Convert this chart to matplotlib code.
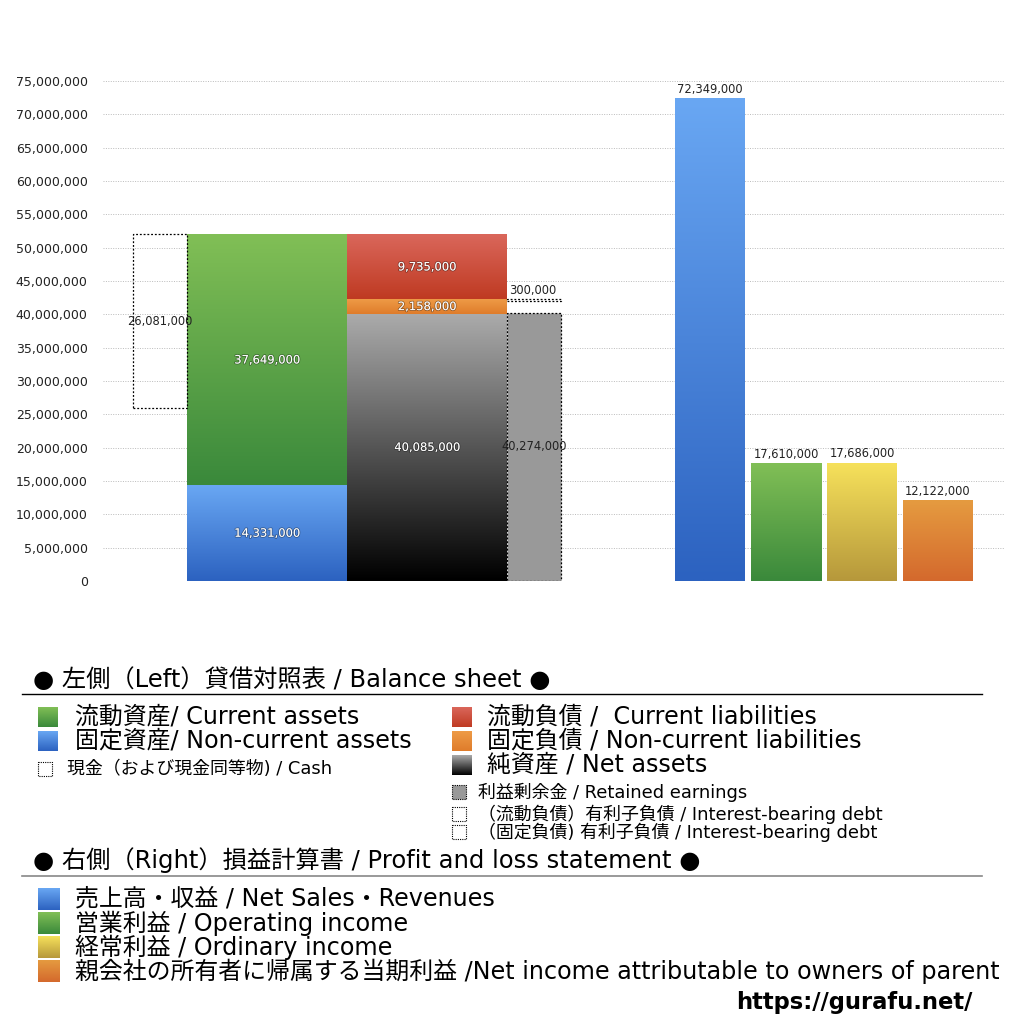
import numpy as np
import matplotlib.pyplot as plt
from matplotlib.patches import Rectangle
from matplotlib import patheffects
from matplotlib.colors import to_rgb

# 欧文は DejaVu Sans、和文は Noto Sans CJK JP にフォールバック
plt.rcParams["font.family"] = ["DejaVu Sans", "Noto Sans CJK JP"]

# ==================================================
# データ（貸借対照表 / 損益計算書）
# ==================================================
cash = 26_081_000
non_current_assets = 14_331_000
current_assets = 37_649_000
net_assets = 40_085_000
non_current_liabilities = 2_158_000
current_liabilities = 9_735_000
retained_earnings = 40_274_000
interest_bearing_debt = 300_000

pl_values = [72_349_000, 17_610_000, 17_686_000, 12_122_000]

y_ticks = list(range(0, 75_000_001, 5_000_000))

# 色（上, 下）
c_blue = ("#69a7f3", "#2c62c0")
c_green = ("#81bf56", "#3a893b")
c_red = ("#da675b", "#bf3a22")
c_orange = ("#ee9b46", "#df7c2b")
c_net = ("#ababab", "#000000")
c_yellow = ("#f6e15b", "#b6983b")
c_orange2 = ("#e59b40", "#d4692d")
pl_colors = [c_blue, c_green, c_yellow, c_orange2]

# レイアウト（x 位置）
x_cash, w_small = 0.30, 0.54
x_assets, w_big = 0.84, 1.60
x_liab = 2.44
x_ret = 4.04
x_pl = [5.72, 6.48, 7.24, 8.00]
w_pl = 0.70


def grad(ax, x0, x1, y0, y1, colors, zorder=2):
    top = np.array(to_rgb(colors[0]))
    bot = np.array(to_rgb(colors[1]))
    t = np.linspace(0, 1, 128)[:, None]
    img = (top * (1 - t) + bot * t)[:, None, :]
    ax.imshow(img, extent=(x0, x1, y0, y1), origin="upper",
              aspect="auto", zorder=zorder, interpolation="bilinear")


def label(ax, x, y, s, color="white", va="center", ha="center"):
    t = ax.text(x, y, f"{s:,}" if isinstance(s, int) else s, color=color,
                ha=ha, va=va, fontsize=8.3, zorder=6)
    if color == "white":
        t.set_path_effects([patheffects.withStroke(linewidth=1.2,
                                                   foreground=(0, 0, 0, 0.35))])
    return t


fig = plt.figure(figsize=(10.24, 10.24), dpi=100)
ax = fig.add_axes([103 / 1024, 1 - 581 / 1024, 902 / 1024, 500 / 1024])

# ---- 左側：貸借対照表 ----
total_assets = non_current_assets + current_assets
grad(ax, x_assets, x_assets + w_big, 0, non_current_assets, c_blue)
grad(ax, x_assets, x_assets + w_big, non_current_assets, total_assets, c_green)
label(ax, x_assets + w_big / 2, non_current_assets / 2, non_current_assets)
label(ax, x_assets + w_big / 2, non_current_assets + current_assets / 2, current_assets)

ax.add_patch(Rectangle((x_cash, total_assets - cash), w_small, cash, fill=False,
                       linestyle=(0, (1.5, 1.5)), linewidth=0.9, zorder=4))
label(ax, x_cash + w_small / 2, total_assets - cash / 2, cash, color="#222222")

y1 = net_assets
y2 = y1 + non_current_liabilities
y3 = y2 + current_liabilities
grad(ax, x_liab, x_liab + w_big, 0, y1, c_net)
grad(ax, x_liab, x_liab + w_big, y1, y2, c_orange)
grad(ax, x_liab, x_liab + w_big, y2, y3, c_red)
label(ax, x_liab + w_big / 2, y1 / 2, net_assets)
label(ax, x_liab + w_big / 2, (y1 + y2) / 2, non_current_liabilities)
label(ax, x_liab + w_big / 2, (y2 + y3) / 2, current_liabilities)

ax.bar(x_ret, retained_earnings, width=w_small, align="edge", color="#999999",
       edgecolor="black", linestyle=(0, (1.5, 1.5)), linewidth=0.9, zorder=3)
label(ax, x_ret + w_small / 2, retained_earnings / 2, retained_earnings, color="#222222")

ax.add_patch(Rectangle((x_ret, y2 - interest_bearing_debt), w_small, interest_bearing_debt,
                       fill=False, linestyle=(0, (1.5, 1.5)), linewidth=0.9, zorder=4))
label(ax, x_ret + 0.02, y2 + 300_000, interest_bearing_debt, color="#222222",
      va="bottom", ha="left")

# ---- 右側：損益計算書 ----
for x, v, c in zip(x_pl, pl_values, pl_colors):
    grad(ax, x, x + w_pl, 0, v, c)
    label(ax, x + w_pl / 2, v + 400_000, v, color="#222222", va="bottom")

ax.set_xlim(0, 9.02)
ax.set_ylim(0, 75_000_000)
ax.set_yticks(y_ticks)
ax.set_yticklabels([f"{v:,}" for v in y_ticks], fontsize=9, color="#222222")
ax.tick_params(axis="y", length=0, pad=11)
ax.set_xticks([])
ax.grid(axis="y", linestyle=(0, (1, 1.5)), color="#bbbbbb", linewidth=0.7, zorder=0)
ax.set_axisbelow(True)
for s in ax.spines.values():
    s.set_visible(False)

# ==================================================
# 凡例（ピクセル座標）
# ==================================================
lax = fig.add_axes([0, 0, 1, 1])
lax.set_xlim(0, 1024)
lax.set_ylim(1024, 0)
lax.axis("off")
lax.patch.set_visible(False)


def swatch(x, yc, size, colors=None, face=None):
    h = size / 2
    if colors is not None:
        grad(lax, x, x + size, yc + h, yc - h, colors)
    else:
        lax.add_patch(Rectangle((x, yc - h), size, size,
                                facecolor=face if face else "white",
                                edgecolor="black", linestyle=(0, (1, 1)),
                                linewidth=0.8, zorder=3))


big = 17.2
small = 12.9
head = 17.5

lax.text(33, 680, "● 左側（Left）貸借対照表 / Balance sheet ●", fontsize=head,
         va="center", ha="left")
lax.plot([22, 982], [694, 694], color="black", linewidth=1)

left_items = [("流動資産/ Current assets", c_green), ("固定資産/ Non-current assets", c_blue)]
for i, (txt, c) in enumerate(left_items):
    y = 717 + 24 * i
    swatch(38, y, 20, colors=c)
    lax.text(75, y, txt, fontsize=big, va="center", ha="left")
swatch(38, 769, 14)
lax.text(67, 769, "現金（および現金同等物) / Cash", fontsize=small, va="center", ha="left")

right_items = [("流動負債 /  Current liabilities", c_red),
               ("固定負債 / Non-current liabilities", c_orange),
               ("純資産 / Net assets", c_net)]
for i, (txt, c) in enumerate(right_items):
    y = 717 + 24 * i
    swatch(452, y, 20, colors=c)
    lax.text(487, y, txt, fontsize=big, va="center", ha="left")
swatch(452, 792, 14, face="#999999")
lax.text(478, 792, "利益剰余金 / Retained earnings", fontsize=small, va="center", ha="left")
swatch(452, 814, 14)
lax.text(478, 814, "（流動負債）有利子負債 / Interest-bearing debt", fontsize=small,
         va="center", ha="left")
swatch(452, 832, 14)
lax.text(478, 832, "（固定負債) 有利子負債 / Interest-bearing debt", fontsize=small,
         va="center", ha="left")

lax.text(33, 860, "● 右側（Right）損益計算書 / Profit and loss statement ●", fontsize=head,
         va="center", ha="left")
lax.plot([22, 982], [876, 876], color="#888888", linewidth=1.2)

pl_names = ["売上高・収益 / Net Sales・Revenues",
            "営業利益 / Operating income",
            "経常利益 / Ordinary income",
            "親会社の所有者に帰属する当期利益 /Net income attributable to owners of parent"]
for i, (txt, c) in enumerate(zip(pl_names, pl_colors)):
    y = 899 + 24 * i
    swatch(38, y, 22, colors=c)
    lax.text(75, y, txt, fontsize=big, va="center", ha="left")

lax.text(972, 1002, "https://gurafu.net/", fontsize=16.3, fontweight="bold",
         va="center", ha="right")

fig.savefig("out.png", dpi=100, facecolor="white")
